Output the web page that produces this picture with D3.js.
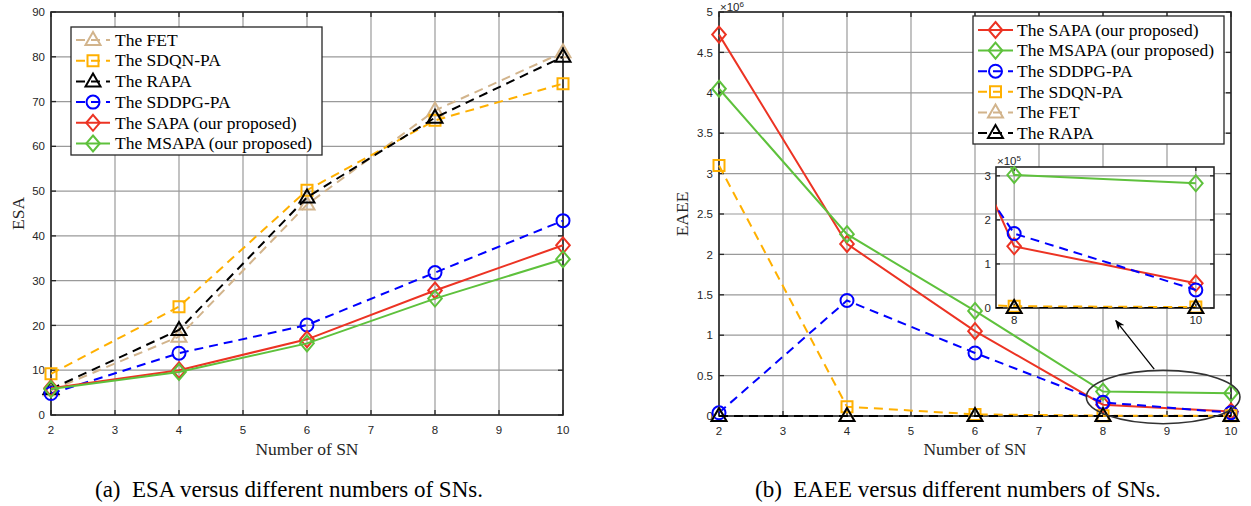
<!DOCTYPE html>
<html>
<head>
<meta charset="utf-8">
<script src="https://cdn.jsdelivr.net/npm/d3@7"></script>
<style>
  body { margin: 0; background: #fff; }
  svg { display: block; }
</style>
</head>
<body>
<div id="chart"></div>
<script>
'use strict';

// ---- data ----
const snCounts = [2, 4, 6, 8, 10];

// (a) ESA
const esaFET   = [5.5, 17.5, 47.0, 68.0, 81.0];
const esaSDQN  = [9.2, 24.2, 50.2, 65.8, 74.0];
const esaRAPA  = [5.8, 19.0, 48.6, 66.4, 80.0];
const esaSDDPG = [4.8, 13.8, 20.1, 31.8, 43.4];
const esaSAPA  = [6.0, 10.0, 16.9, 27.8, 37.9];
const esaMSAPA = [5.8, 9.6, 16.0, 26.0, 34.8];

// (b) EAEE
const eaeeSAPA  = [4.72e6, 2.13e6, 1.05e6, 1.40e5, 0.56e5];
const eaeeMSAPA = [4.05e6, 2.25e6, 1.30e6, 3.02e5, 2.83e5];
const eaeeSDDPG = [0.04e6, 1.43e6, 0.78e6, 1.69e5, 0.41e5];
const eaeeSDQN  = [3.10e6, 0.115e6, 0.02e6, 0.004e6, 0.002e6];
const eaeeFET   = [0, 0, 0, 0, 0];
const eaeeRAPA  = [0, 0, 0, 0, 0];

const esaTicksY  = d3.range(0, 91, 10);
const eaeeTicksY = d3.range(0, 5.01e6, 0.5e6);
const ticksX     = d3.range(2, 11, 1);
const insetTicksX = [8, 10];
const insetTicksY = [0, 1e5, 2e5, 3e5];

const COLORS = {
  red: "#ec3323", green: "#5ec13c", blue: "#0000ff",
  orange: "#ffb000", tan: "#d2b48c", black: "#000000"
};

const svg = d3.select("#chart").append("svg")
  .attr("width", 1251).attr("height", 506);

svg.append("defs").append("marker")
  .attr("id", "arrowHead")
  .attr("viewBox", "0 0 10 10")
  .attr("refX", 9).attr("refY", 5)
  .attr("markerWidth", 10).attr("markerHeight", 10)
  .attr("markerUnits", "userSpaceOnUse")
  .attr("orient", "auto")
  .append("path")
  .attr("d", "M0,1 L10,5 L0,9 L3,5 Z")
  .attr("fill", "#000");

function markerPath(type){
  switch(type){
    case "triangle": return "M0,-8L7.5,5L-7.5,5Z";
    case "square":   return "M-5.5,-5.5H5.5V5.5H-5.5Z";
    case "diamond":  return "M0,-8L6.8,0L0,8L-6.8,0Z";
    case "circle":   return "M6.5,0A6.5,6.5 0 1,1 -6.5,0A6.5,6.5 0 1,1 6.5,0Z";
  }
  return "";
}

class Panel{
  constructor(options){
    this.g = options.container.append("g");
    this.x = d3.scaleLinear().domain(options.xDomain).range(options.xRange);
    this.y = d3.scaleLinear().domain(options.yDomain).range(options.yRange);
    this.xTicks = options.xTicks;
    this.yTicks = options.yTicks;
    this.yFormat = options.yFormat || (d => d);
    this.xLabelOffset = options.xLabelOffset || 19;
    this.yLabelOffset = options.yLabelOffset || 6;
    this.tickLen = options.tickLen || 5;
    this.background = options.background || null;
    this.clipId = options.clipId;
  }

  drawFrame(){
    const [x0, x1] = this.x.range();
    const [y0, y1] = this.y.range();
    const g = this.g;

    if(this.background){
      g.append("rect")
        .attr("x", x0).attr("y", y1)
        .attr("width", x1 - x0).attr("height", y0 - y1)
        .attr("fill", this.background);
    }

    // grid
    const grid = g.append("g").attr("class", "grid")
      .attr("stroke", "#9a9a9a").attr("stroke-width", 1.2);
    for(let t of this.xTicks){
      grid.append("line")
        .attr("x1", this.x(t)).attr("x2", this.x(t))
        .attr("y1", y0).attr("y2", y1);
    }
    for(let t of this.yTicks){
      grid.append("line")
        .attr("x1", x0).attr("x2", x1)
        .attr("y1", this.y(t)).attr("y2", this.y(t));
    }

    // inward ticks on all four sides
    const ticks = g.append("g").attr("stroke", "#262626").attr("stroke-width", 1.3);
    const L = this.tickLen;
    for(let t of this.xTicks){
      ticks.append("line").attr("x1", this.x(t)).attr("x2", this.x(t)).attr("y1", y0).attr("y2", y0 - L);
      ticks.append("line").attr("x1", this.x(t)).attr("x2", this.x(t)).attr("y1", y1).attr("y2", y1 + L);
    }
    for(let t of this.yTicks){
      ticks.append("line").attr("x1", x0).attr("x2", x0 + L).attr("y1", this.y(t)).attr("y2", this.y(t));
      ticks.append("line").attr("x1", x1).attr("x2", x1 - L).attr("y1", this.y(t)).attr("y2", this.y(t));
    }

    g.append("rect")
      .attr("x", x0).attr("y", y1)
      .attr("width", x1 - x0).attr("height", y0 - y1)
      .attr("fill", "none")
      .attr("stroke", "#262626").attr("stroke-width", 1.6);

    // tick labels
    const labels = g.append("g")
      .attr("font-family", "'Liberation Sans', Arial, sans-serif")
      .attr("font-size", 11.5).attr("fill", "#262626");
    for(let t of this.xTicks){
      labels.append("text")
        .attr("x", this.x(t)).attr("y", y0 + this.xLabelOffset)
        .attr("text-anchor", "middle").text(t);
    }
    for(let t of this.yTicks){
      labels.append("text")
        .attr("x", x0 - this.yLabelOffset).attr("y", this.y(t))
        .attr("dy", "0.36em")
        .attr("text-anchor", "end").text(this.yFormat(t));
    }

    if(this.clipId){
      svg.select("defs").append("clipPath").attr("id", this.clipId)
        .append("rect")
        .attr("x", x0).attr("y", y1)
        .attr("width", x1 - x0).attr("height", y0 - y1);
    }
  }

  drawSeries(series){
    const line = d3.line()
      .x((d, i) => this.x(snCounts[i]))
      .y(d => this.y(d));
    for(let s of series){
      const lg = this.g.append("g");
      const path = lg.append("path")
        .attr("d", line(s.values))
        .attr("fill", "none")
        .attr("stroke", s.color)
        .attr("stroke-width", 2)
        .attr("stroke-dasharray", s.dashed ? "9,6" : null);
      if(this.clipId){
        path.attr("clip-path", `url(#${this.clipId})`);
      }
      const [xa, xb] = this.x.domain();
      lg.selectAll("path.mk")
        .data(s.values.map((v, i) => ({x: snCounts[i], y: v})).filter(d => d.x >= xa && d.x <= xb))
        .join("path")
        .attr("class", "mk")
        .attr("transform", d => `translate(${this.x(d.x)},${this.y(d.y)})`)
        .attr("d", markerPath(s.marker))
        .attr("fill", "none")
        .attr("stroke", s.color)
        .attr("stroke-width", 2);
    }
  }

  drawAxisTitles(xTitle, yTitle, xTitleY, yTitleX){
    const [x0, x1] = this.x.range();
    const [y0, y1] = this.y.range();
    const font = "'Liberation Serif', 'Times New Roman', serif";
    this.g.append("text")
      .attr("x", (x0 + x1) / 2).attr("y", xTitleY)
      .attr("text-anchor", "middle")
      .attr("font-family", font).attr("font-size", 17.5).attr("fill", "#262626")
      .text(xTitle);
    this.g.append("text")
      .attr("transform", `translate(${yTitleX},${(y0 + y1) / 2}) rotate(-90)`)
      .attr("text-anchor", "middle")
      .attr("dy", "0.35em")
      .attr("font-family", font).attr("font-size", 17.5).attr("fill", "#262626")
      .text(yTitle);
  }

  drawExponent(exp, x, y){
    const t = this.g.append("text")
      .attr("x", x).attr("y", y)
      .attr("font-family", "'Liberation Sans', Arial, sans-serif")
      .attr("font-size", 11.5).attr("fill", "#262626");
    t.append("tspan").text("\u00d710");
    t.append("tspan").attr("dy", -4).attr("font-size", 8).text(exp);
  }
}

function drawLegend(container, series, box, sample){
  const g = container.append("g");
  g.append("rect")
    .attr("x", box.x).attr("y", box.y)
    .attr("width", box.w).attr("height", box.h)
    .attr("fill", "#fff")
    .attr("stroke", "#262626").attr("stroke-width", 1.3);
  series.forEach((s, i) => {
    const cy = box.y + box.first + i * box.step;
    g.append("line")
      .attr("x1", sample.x1).attr("x2", sample.x2)
      .attr("y1", cy).attr("y2", cy)
      .attr("stroke", s.color).attr("stroke-width", 2)
      .attr("stroke-dasharray", s.dashed ? "9,6" : null);
    g.append("path")
      .attr("transform", `translate(${(sample.x1 + sample.x2) / 2},${cy})`)
      .attr("d", markerPath(s.marker))
      .attr("fill", "none").attr("stroke", s.color).attr("stroke-width", 2);
    g.append("text")
      .attr("x", sample.text).attr("y", cy)
      .attr("dy", "0.33em")
      .attr("font-family", "'Liberation Serif', 'Times New Roman', serif")
      .attr("font-size", 17.5).attr("fill", "#000")
      .text(s.name);
  });
}

// ---- (a) ESA ----
const esaSeries = [
  {name: "The FET",                  values: esaFET,   color: COLORS.tan,    dashed: true,  marker: "triangle"},
  {name: "The SDQN-PA",              values: esaSDQN,  color: COLORS.orange, dashed: true,  marker: "square"},
  {name: "The RAPA",                 values: esaRAPA,  color: COLORS.black,  dashed: true,  marker: "triangle"},
  {name: "The SDDPG-PA",             values: esaSDDPG, color: COLORS.blue,   dashed: true,  marker: "circle"},
  {name: "The SAPA (our proposed)",  values: esaSAPA,  color: COLORS.red,    dashed: false, marker: "diamond"},
  {name: "The MSAPA (our proposed)", values: esaMSAPA, color: COLORS.green,  dashed: false, marker: "diamond"}
];

const left = new Panel({
  container: svg,
  xDomain: [2, 10], xRange: [51, 563],
  yDomain: [0, 90], yRange: [415, 12],
  xTicks: ticksX, yTicks: esaTicksY
});
left.drawFrame();
left.drawSeries(esaSeries);
left.drawAxisTitles("Number of SN", "ESA", 455, 18);
drawLegend(svg, esaSeries,
  {x: 71, y: 27, w: 251, h: 128, first: 13, step: 20.7},
  {x1: 76, x2: 110, text: 115});

// ---- (b) EAEE ----
const eaeeSeries = [
  {name: "The SAPA (our proposed)",  values: eaeeSAPA,  color: COLORS.red,    dashed: false, marker: "diamond"},
  {name: "The MSAPA (our proposed)", values: eaeeMSAPA, color: COLORS.green,  dashed: false, marker: "diamond"},
  {name: "The SDDPG-PA",             values: eaeeSDDPG, color: COLORS.blue,   dashed: true,  marker: "circle"},
  {name: "The SDQN-PA",              values: eaeeSDQN,  color: COLORS.orange, dashed: true,  marker: "square"},
  {name: "The FET",                  values: eaeeFET,   color: COLORS.tan,    dashed: true,  marker: "triangle"},
  {name: "The RAPA",                 values: eaeeRAPA,  color: COLORS.black,  dashed: true,  marker: "triangle"}
];

const right = new Panel({
  container: svg,
  xDomain: [2, 10], xRange: [719, 1231],
  yDomain: [0, 5e6], yRange: [416, 12],
  xTicks: ticksX, yTicks: eaeeTicksY,
  yFormat: d => d3.format("~g")(d / 1e6)
});
right.drawFrame();
right.drawSeries(eaeeSeries);
right.drawAxisTitles("Number of SN", "EAEE", 455, 682);
right.drawExponent("6", 720, 10.5);

// zoomed inset of N = 8..10
const inset = new Panel({
  container: svg,
  xDomain: [7.8, 10.2], xRange: [996, 1214],
  yDomain: [0, 3.2e5], yRange: [308, 167],
  xTicks: insetTicksX, yTicks: insetTicksY,
  yFormat: d => d / 1e5,
  xLabelOffset: 16, yLabelOffset: 5, tickLen: 4,
  background: "#fff", clipId: "insetClip"
});
inset.drawFrame();
inset.drawSeries(eaeeSeries);
inset.drawExponent("5", 997, 165);

// ellipse around N = 8..10 and the arrow pointing to the inset
const focusArea = {x: 8.94, y: 0.235e6, rx: 1.2, ry: 0.33e6};
const arrowFrom = {x: 8.8, y: 0.58e6};
const arrowTo   = {x: 8.2, y: 1.18e6};

svg.append("ellipse")
  .attr("cx", right.x(focusArea.x)).attr("cy", right.y(focusArea.y))
  .attr("rx", right.x(2 + focusArea.rx) - right.x(2))
  .attr("ry", right.y(0) - right.y(focusArea.ry))
  .attr("fill", "none").attr("stroke", "#333").attr("stroke-width", 1.6);

svg.append("line")
  .attr("x1", right.x(arrowFrom.x)).attr("y1", right.y(arrowFrom.y))
  .attr("x2", right.x(arrowTo.x)).attr("y2", right.y(arrowTo.y))
  .attr("stroke", "#000").attr("stroke-width", 1.3)
  .attr("marker-end", "url(#arrowHead)");

drawLegend(svg, eaeeSeries,
  {x: 973, y: 16, w: 251, h: 128, first: 14, step: 20.6},
  {x1: 978, x2: 1013, text: 1017});

// ---- captions ----
const captionFont = "'Liberation Serif', 'Times New Roman', serif";
svg.append("text")
  .attr("x", 95).attr("y", 497)
  .attr("font-family", captionFont).attr("font-size", 23).attr("fill", "#000")
  .attr("xml:space", "preserve")
  .text("(a)  ESA versus different numbers of SNs.");
svg.append("text")
  .attr("x", 755).attr("y", 497)
  .attr("font-family", captionFont).attr("font-size", 23).attr("fill", "#000")
  .attr("xml:space", "preserve")
  .text("(b)  EAEE versus different numbers of SNs.");
</script>
</body>
</html>
